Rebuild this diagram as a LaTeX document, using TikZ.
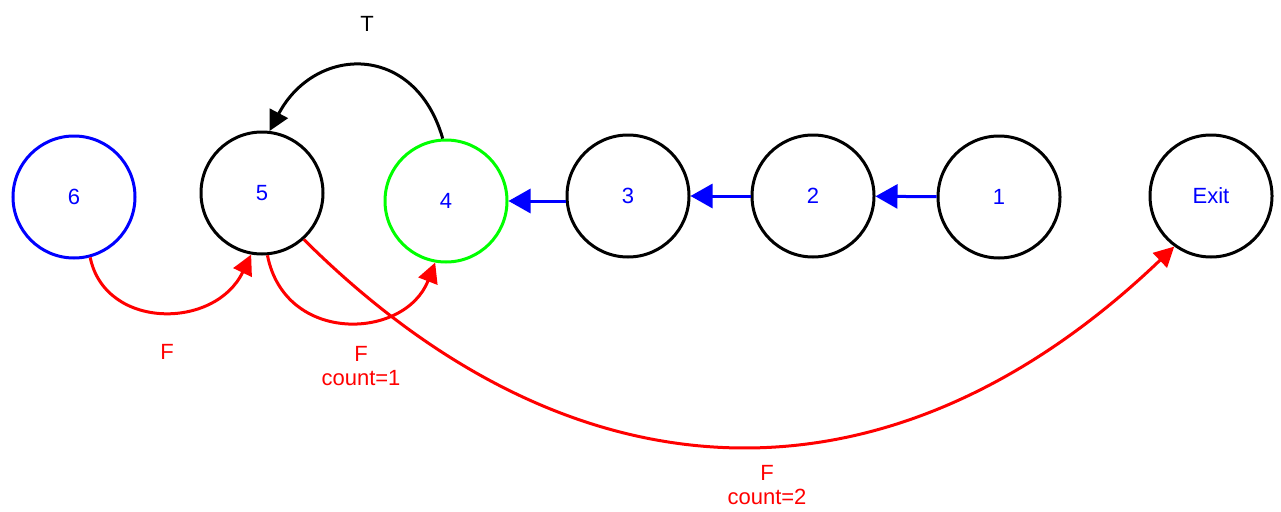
\documentclass[tikz,border=0pt]{standalone}
\usepackage{fontspec}
\setmainfont{Liberation Sans}
\usetikzlibrary{arrows.meta}
\definecolor{pblue}{RGB}{0,0,255}
\definecolor{pgreen}{RGB}{0,255,0}
\definecolor{pred}{RGB}{255,0,0}
\begin{document}
\begin{tikzpicture}[x=1pt,y=-1pt,
  state/.style={circle,draw=black,line width=3pt,minimum size=122pt,inner sep=0pt,
    text=pblue,font=\fontsize{22}{26}\selectfont},
  lbl/.style={font=\fontsize{22}{26}\selectfont,align=center},
  tip/.style={-{Triangle[length=20pt,width=20pt]}},
  blueedge/.style={-{Triangle[length=22pt,width=24pt]},draw=pblue,line width=3pt},
  rededge/.style={tip,draw=pred,line width=3pt},
  blackedge/.style={tip,draw=black,line width=3pt}]
\useasboundingbox (0,0) rectangle (1281,511);
\node[state,draw=pblue] (n6) at (74,197) {6};
\node[state] (n5) at (262,193) {5};
\node[state,draw=pgreen] (n4) at (446,201) {4};
\node[state] (n3) at (628,196) {3};
\node[state] (n2) at (813,196) {2};
\node[state] (n1) at (999,197) {1};
\node[state] (ex) at (1211,196) {Exit};
% blue chain
\draw[blueedge] (n3.west |- n4.east) -- (n4.east);
\draw[blueedge] (n2) -- (n3);
\draw[blueedge] (n1) -- (n2);
% T arc
\draw[blackedge] (n4.93) .. controls (415,42) and (315,45) .. (n5.83);
\node[lbl,text=black] (lt) at (367,24) {T};
% red arcs
\draw[rededge] (n6.-75) .. controls (105,330) and (215,330) .. (n5.-100);
\draw[rededge] (n5.-85) .. controls (285,345) and (405,340) .. (n4.-100);
\draw[rededge] (n5.-48) .. controls (580,514) and (895,514) .. (ex.-126);
\node[lbl,text=pred] (l1) at (167,352) {F};
\node[lbl,text=pred] (l2) at (361,366) {F\\[-2pt]count=1};
\node[lbl,text=pred] (l3) at (767,485) {F\\[-2pt]count=2};
\end{tikzpicture}
\end{document}
